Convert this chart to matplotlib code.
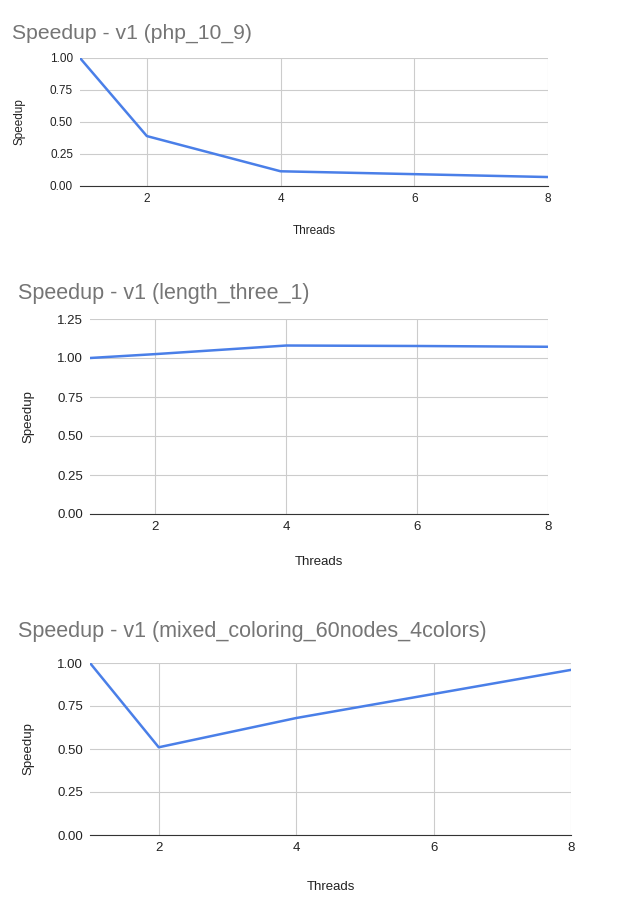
import matplotlib
matplotlib.use("Agg")
import matplotlib.pyplot as plt

plt.rcParams['font.family'] = ['Liberation Sans', 'DejaVu Sans']

threads = [1, 2, 4, 8]
php = [1.0, 0.39, 0.115, 0.07]
length_threads = [1, 2, 4, 6, 8]
length_three = [1.0, 1.025, 1.08, 1.077, 1.072]
mixed = [1.0, 0.51, 0.68, 0.96]

titles = ["Speedup - v1 (php_10_9)", "Speedup - v1 (length_three_1)",
          "Speedup - v1 (mixed_coloring_60nodes_4colors)"]
W, H = 626, 924
fig = plt.figure(figsize=(W/100, H/100), dpi=100)

specs = [
    (80, 548, 58, 186, [0, 0.25, 0.5, 0.75, 1.0], 12, 33, 20, 231, 15.2, 8.5),
    (90, 548, 319, 514, [0, 0.25, 0.5, 0.75, 1.0, 1.25], 18, 293, 28, 562, 15.5, 9.5),
    (90, 571, 663, 835, [0, 0.25, 0.5, 0.75, 1.0], 18, 632, 28, 887, 15.5, 9.5),
]
data = [(threads, php), (length_threads, length_three), (threads, mixed)]

for (l, r, t, b, yt, tx, ty, lx, xly, tfs, fs), (xs, ys), title in zip(specs, data, titles):
    ax = fig.add_axes([l/W, 1-b/H, (r-l)/W, (b-t)/H])
    ax.plot(xs, ys, color='#4a7fe8', lw=1.8, solid_capstyle='round')
    ax.set_xlim(1, 8)
    ax.set_ylim(0, yt[-1])
    ax.set_xticks([2, 4, 6, 8])
    ax.set_yticks(yt)
    ax.set_yticklabels([f"{v:.2f}" for v in yt])
    ax.grid(True, color='#cccccc', lw=0.8)
    ax.set_axisbelow(True)
    for s in ['top', 'right', 'left']:
        ax.spines[s].set_visible(False)
    ax.spines['bottom'].set_color('#333333')
    ax.tick_params(length=0, labelsize=fs, colors='#222222', pad=5)
    fig.text(tx/W, 1-ty/H, title, fontsize=tfs, color='#757575', va='center', ha='left')
    fig.text(lx/W, 1-((t+b)/2)/H, "Speedup", rotation=90, fontsize=fs, color='#222222', va='center', ha='center')
    fig.text(((l+r)/2)/W, 1-xly/H, "Threads", fontsize=fs, color='#222222', va='center', ha='center')

fig.savefig("out.png", dpi=100, facecolor='white')
